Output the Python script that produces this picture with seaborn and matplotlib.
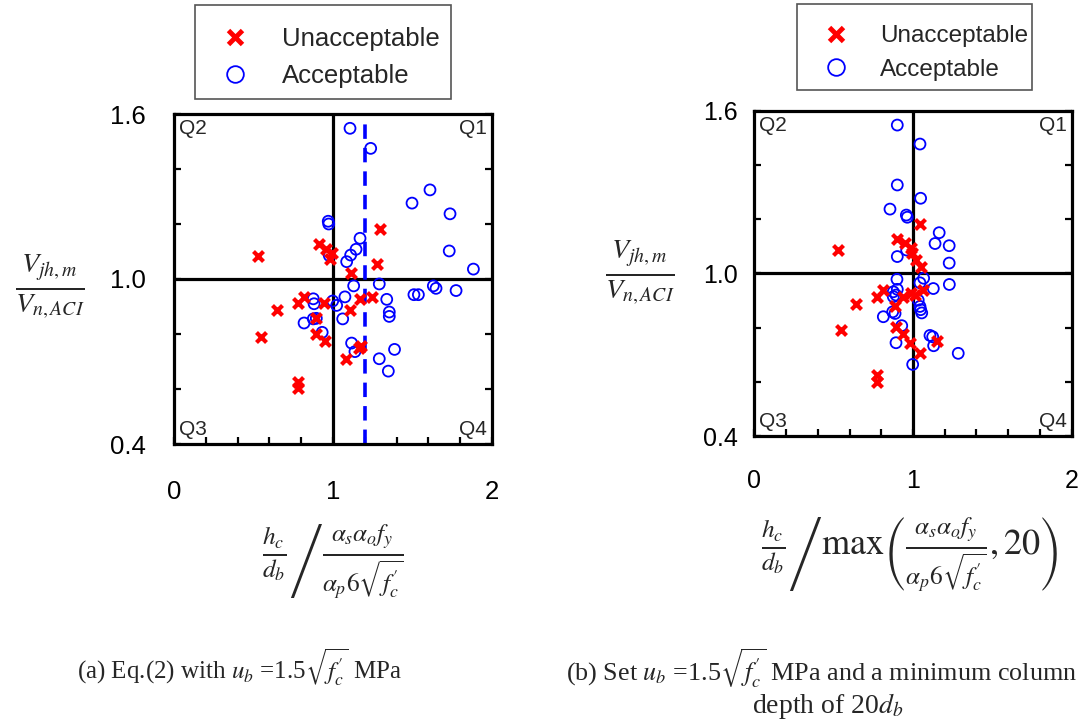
import numpy as np
import pandas as pd
import matplotlib
matplotlib.use("Agg")
import matplotlib.pyplot as plt
from matplotlib.lines import Line2D
from matplotlib.patches import Rectangle
from matplotlib.ticker import FixedLocator
import seaborn as sns

# ---- (a) Eq.(2): normalised column depth vs. joint shear ratio ----
a_unacc_x = [0.526, 0.914, 0.956, 0.992, 0.981, 1.296, 1.275, 1.113, 0.646, 0.782,
             0.818, 0.943, 1.170, 1.243, 1.107, 0.890, 0.893, 0.950, 1.166, 1.174,
             1.082, 0.545, 0.782, 0.782]
a_unacc_y = [1.085, 1.127, 1.108, 1.093, 1.072, 1.181, 1.055, 1.023, 0.887, 0.912,
             0.933, 0.912, 0.926, 0.933, 0.887, 0.857, 0.800, 0.776, 0.748, 0.756,
             0.710, 0.790, 0.627, 0.603]
a_acc_x = [0.970, 0.973, 0.977, 1.107, 1.237, 1.610, 1.497, 1.736, 1.170, 1.145,
           1.111, 1.086, 1.731, 1.883, 1.291, 1.130, 1.509, 1.537, 1.631, 1.648,
           1.774, 1.075, 0.876, 0.881, 0.998, 1.023, 1.338, 1.354, 1.354, 1.061,
           0.876, 0.895, 0.818, 0.932, 1.117, 1.138, 1.291, 1.387, 1.348]
a_acc_y = [1.210, 1.200, 1.085, 1.548, 1.475, 1.324, 1.276, 1.237, 1.148, 1.108,
           1.087, 1.063, 1.102, 1.036, 0.982, 0.975, 0.943, 0.943, 0.975, 0.966,
           0.958, 0.935, 0.928, 0.910, 0.920, 0.904, 0.926, 0.880, 0.864, 0.855,
           0.855, 0.857, 0.840, 0.806, 0.767, 0.736, 0.710, 0.744, 0.665]
a_limit = 1.2

# ---- (b) with a minimum column depth of 20 d_b ----
b_unacc_x = [0.525, 0.901, 0.950, 0.985, 0.992, 1.019, 1.048, 1.046, 0.813, 0.775,
             0.939, 0.985, 1.013, 1.065, 0.641, 0.887, 0.893, 0.939, 0.981, 1.151,
             1.046, 0.548, 0.771, 0.775]
b_unacc_y = [1.085, 1.125, 1.111, 1.092, 1.074, 1.049, 1.024, 1.182, 0.938, 0.911,
             0.911, 0.929, 0.920, 0.938, 0.887, 0.879, 0.803, 0.776, 0.742, 0.750,
             0.705, 0.791, 0.625, 0.600]
b_acc_x = [0.901, 1.044, 0.901, 1.048, 0.855, 0.958, 0.964, 1.165, 1.139, 1.228,
           1.228, 0.960, 0.901, 1.067, 0.899, 1.044, 1.128, 1.229, 0.876, 0.901,
           0.893, 0.876, 1.033, 1.044, 1.048, 1.055, 0.872, 0.887, 0.813, 0.929,
           0.893, 1.107, 1.124, 1.130, 1.285, 0.998]
b_acc_y = [1.547, 1.477, 1.326, 1.277, 1.237, 1.215, 1.207, 1.150, 1.110, 1.102,
           1.038, 1.086, 1.062, 0.982, 0.978, 0.965, 0.944, 0.959, 0.932, 0.941,
           0.920, 0.914, 0.901, 0.878, 0.866, 0.854, 0.858, 0.852, 0.840, 0.807,
           0.744, 0.771, 0.766, 0.733, 0.705, 0.664]

group_labels = ["Unacceptable", "Acceptable"]
x_major = [0, 1, 2]
y_major = [0.4, 1.0, 1.6]
y_ticklabels = ["0.4", "1.0", "1.6"]

sns.set_theme(style="white")
plt.rcParams["font.family"] = ["Liberation Sans", "DejaVu Sans"]
plt.rcParams["mathtext.fontset"] = "stix"

fig = plt.figure(figsize=(10.84, 7.24), dpi=100)
W, H = 1084.0, 724.0
axA = fig.add_axes([174 / W, 1 - 444 / H, 318 / W, 330 / H])
axB = fig.add_axes([754.3 / W, 1 - 436 / H, 317.4 / W, 325.3 / H])


def points(ax, ux, uy, cx, cy):
    du = pd.DataFrame({"x": ux, "y": uy})
    dc = pd.DataFrame({"x": cx, "y": cy})
    sns.scatterplot(data=dc, x="x", y="y", ax=ax, marker="o", s=62, color="blue",
                    facecolor="none", edgecolor="blue", linewidth=1.3, zorder=3,
                    legend=False)
    sns.scatterplot(data=du, x="x", y="y", ax=ax, marker="x", s=52, color="red",
                    linewidth=3.0, zorder=4, legend=False)


def frame(ax, ylab_pad, xlab_pad, fs):
    ax.set_xlim(0, 2)
    ax.set_ylim(0.4, 1.6)
    ax.axhline(1.0, color="black", lw=2.3, zorder=1)
    ax.axvline(1.0, color="black", lw=2.3, zorder=1)
    for s in ax.spines.values():
        s.set_color("black")
        s.set_linewidth(2.3)
    ax.xaxis.set_major_locator(FixedLocator(x_major))
    ax.xaxis.set_minor_locator(FixedLocator(np.arange(0.2, 2.0, 0.2)))
    ax.yaxis.set_major_locator(FixedLocator(y_major))
    ax.yaxis.set_minor_locator(FixedLocator([0.6, 0.8, 1.2, 1.4]))
    ax.set_xticklabels([str(v) for v in x_major])
    ax.set_yticklabels(y_ticklabels)
    ax.tick_params(which="both", direction="in", length=5, width=1.6,
                   left=True, bottom=True, right=True, top=False, colors="black")
    ax.tick_params(axis="x", which="major", pad=xlab_pad, labelsize=fs)
    ax.tick_params(axis="y", which="major", pad=ylab_pad, labelsize=fs)
    ax.set_xlabel("")
    ax.set_ylabel("")
    qfs = 15
    ax.text(0.015, 0.985, "Q2", transform=ax.transAxes, ha="left", va="top", fontsize=qfs)
    ax.text(0.985, 0.985, "Q1", transform=ax.transAxes, ha="right", va="top", fontsize=qfs)
    ax.text(0.015, 0.015, "Q3", transform=ax.transAxes, ha="left", va="bottom", fontsize=qfs)
    ax.text(0.985, 0.015, "Q4", transform=ax.transAxes, ha="right", va="bottom", fontsize=qfs)


points(axA, a_unacc_x, a_unacc_y, a_acc_x, a_acc_y)
points(axB, b_unacc_x, b_unacc_y, b_acc_x, b_acc_y)
frame(axA, ylab_pad=20, xlab_pad=26, fs=18.5)
frame(axB, ylab_pad=12, xlab_pad=24, fs=18)
axA.axvline(a_limit, color="blue", lw=2.6, ls=(0, (4, 2.5)), zorder=2)

handles = [
    Line2D([], [], ls="none", marker="x", color="red", markersize=10, markeredgewidth=3.5),
    Line2D([], [], ls="none", marker="o", markerfacecolor="none", markeredgecolor="blue",
           markersize=12, markeredgewidth=1.3),
]
# legend entries (no frame) plus a plain rectangular box around each
legend_specs = [
    # anchor (px), fontsize, labelspacing, box (x0, y0, x1, y1) in px
    ((209.3, 27), 18.5, 0.51, (195, 5, 451, 99)),
    ((811.7, 25), 17.5, 0.48, (797, 4, 1032, 90)),
]
for (ax_px, ay_px), fs, sp, (x0, y0, x1, y1) in legend_specs:
    fig.legend(handles, group_labels, loc="upper left",
               bbox_to_anchor=(ax_px / W, 1 - ay_px / H), borderaxespad=0,
               borderpad=0, frameon=False, fontsize=fs, handlelength=2.0,
               handletextpad=0.82, labelspacing=sp)
    fig.patches.append(Rectangle((x0 / W, 1 - y1 / H), (x1 - x0) / W, (y1 - y0) / H,
                                 transform=fig.transFigure, fill=False,
                                 edgecolor="#555555", linewidth=1.2))

# axis quantities as stacked fractions
ylab = r"$\frac{V_{jh,m}}{V_{n,ACI}}$"
fig.text(50 / W, 1 - 287 / H, ylab, ha="center", va="center", fontsize=29)
fig.text(640 / W, 1 - 273 / H, ylab, ha="center", va="center", fontsize=29)

xlab_a = (r"$\frac{h_c}{d_b}\left/\frac{\alpha_s\alpha_o f_y}"
          r"{\alpha_p 6\sqrt{f^{\prime}_c}}\right.$")
xlab_b = (r"$\frac{h_c}{d_b}\left/\max\left(\frac{\alpha_s\alpha_o f_y}"
          r"{\alpha_p 6\sqrt{f^{\prime}_c}},20\right)\right.$")
fig.text(333 / W, 1 - 562 / H, xlab_a, ha="center", va="center", fontsize=26)
fig.text(910 / W, 1 - 555 / H, xlab_b, ha="center", va="center", fontsize=26)

serif = ["Liberation Serif", "DejaVu Serif"]
fig.text(77 / W, 1 - 668 / H, r"(a) Eq.(2) with $u_b$ =1.5$\sqrt{f^{\prime}_c}$ MPa",
         ha="left", va="center", fontsize=18, family=serif)
fig.text(566 / W, 1 - 668 / H,
         r"(b) Set $u_b$ =1.5$\sqrt{f^{\prime}_c}$ MPa and a minimum column",
         ha="left", va="center", fontsize=18.8, family=serif)
fig.text(828 / W, 1 - 706 / H, r"depth of 20$d_b$", ha="center", va="center",
         fontsize=20, family=serif)

fig.savefig("out.png", dpi=100, facecolor="white")
